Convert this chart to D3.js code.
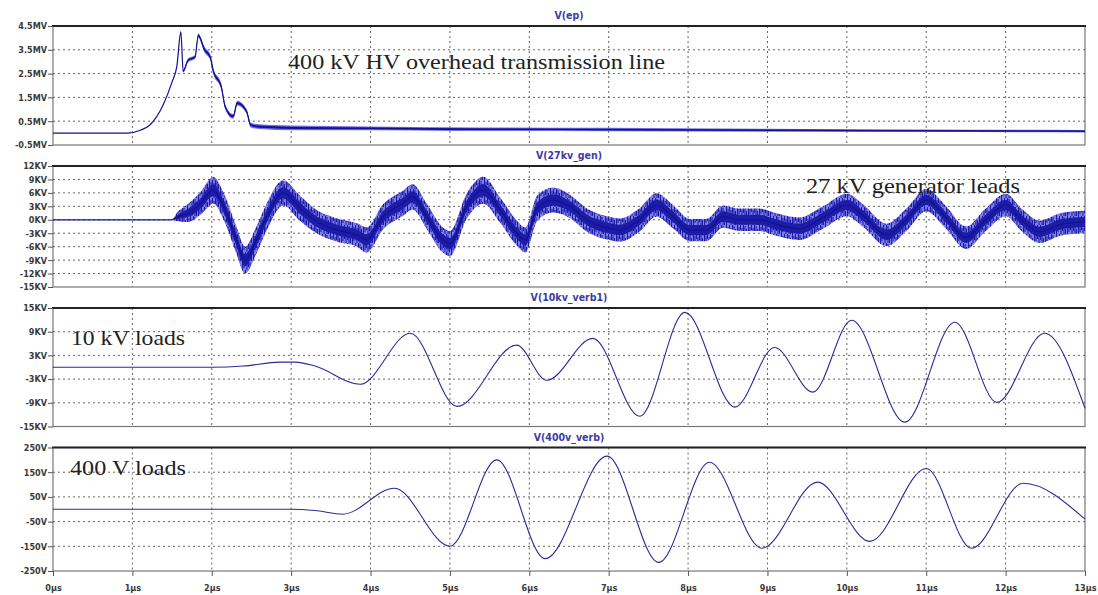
<!DOCTYPE html>
<html>
<head>
<meta charset="utf-8">
<script src="https://cdn.jsdelivr.net/npm/d3@7"></script>
<style>
  body { margin: 0; background: #fff; }
  svg { display: block; }
  .tick text { font-family: "DejaVu Sans Condensed", "DejaVu Sans", sans-serif; font-size: 9px; font-weight: bold; fill: #3a3a3a; }
  .tick line { stroke: #555; }
  .note { font-family: "Liberation Serif", "Times New Roman", serif; font-size: 22px; fill: #222; }
  .ttl { font-family: "DejaVu Sans Condensed", "DejaVu Sans", sans-serif; font-size: 10.5px; font-weight: bold; fill: #3b3ba6; }
</style>
</head>
<body>
<div id="content"></div>
<script>
var w = 1098;
var h = 595;

// time axis (µs)
var xTicks = [0, 1, 2, 3, 4, 5, 6, 7, 8, 9, 10, 11, 12, 13];

// V(ep) in MV : time, centre value, noise half width
var epT   = [0, 0.94, 1.1, 1.22, 1.39, 1.5, 1.56, 1.61, 1.64, 1.7, 1.79, 1.83, 1.91, 1.98, 2.02, 2.12, 2.17, 2.27, 2.32, 2.44, 2.49, 2.6, 3.0, 4.0, 5.0, 7.0, 9.0, 11.0, 13.0];
var epV   = [0, 0, 0.12, 0.34, 1.2, 2.15, 2.8, 4.25, 2.6, 3.05, 3.2, 4.1, 3.5, 3.2, 2.6, 1.95, 1.1, 0.7, 1.26, 0.9, 0.34, 0.27, 0.22, 0.2, 0.17, 0.15, 0.12, 0.1, 0.08];
var epN   = [0, 0, 0, 0, 0, 0, 0, 0.02, 0.05, 0.08, 0.08, 0.1, 0.12, 0.12, 0.12, 0.12, 0.1, 0.1, 0.1, 0.1, 0.1, 0.1, 0.1, 0.08, 0.08, 0.07, 0.06, 0.05, 0.05];
var epTicks = [4.5, 3.5, 2.5, 1.5, 0.5, -0.5];

// V(27kv_gen) in kV
var genT = [0, 1.5, 1.55, 1.7, 1.85, 2.02, 2.15, 2.3, 2.42, 2.55, 2.69, 2.9, 3.11, 3.32, 3.58, 3.83, 3.95, 4.16, 4.41, 4.53, 4.71, 4.91, 5.0, 5.21, 5.42, 5.63, 5.84, 5.95, 6.1, 6.3, 6.51, 6.72, 6.98, 7.14, 7.39, 7.6, 7.81, 8.02, 8.23, 8.44, 8.65, 8.9, 9.1, 9.4, 9.7, 10.0, 10.2, 10.5, 10.75, 11.0, 11.25, 11.5, 11.75, 12.0, 12.2, 12.43, 12.7, 13.0];
var genV = [0, 0, 0.5, 1.5, 3.5, 6.6, 3, -4, -9, -5, 0.6, 6, 2.6, -0.4, -2.3, -3.4, -4.5, 0.7, 3.7, 5.1, 0.7, -4.5, -5.3, 3, 6.6, 2.2, -2.9, -4.5, 2.6, 4.4, 3, 0, -1.8, -2.3, 0, 3.3, 0.7, -2.3, -2.3, 0.7, 0, 0, -1, -2, 0.5, 3.3, 1, -3.4, 0, 4.4, 0.5, -4, 0, 3.3, 0, -2.7, -1, -0.5];
var genN = [0, 0, 0.8, 2, 2.5, 3, 3, 3, 3, 3, 3, 2.8, 2.8, 2.6, 2.6, 2.6, 2.8, 2.8, 2.8, 2.8, 2.8, 2.8, 2.8, 2.8, 3, 2.8, 2.8, 2.8, 2.8, 2.8, 2.6, 2.6, 2.6, 2.6, 2.6, 2.6, 2.6, 2.5, 2.5, 2.5, 2.5, 2.5, 2.5, 2.5, 2.5, 2.5, 2.5, 2.5, 2.5, 2.5, 2.5, 2.5, 2.5, 2.5, 2.5, 2.5, 2.5, 2.5];
var genTicks = [12, 9, 6, 3, 0, -3, -6, -9, -12, -15];

// V(10kv_verb1) in kV
var v10T = [0, 2.0, 2.4, 2.86, 3.05, 3.3, 3.87, 4.5, 5.09, 5.84, 6.22, 6.8, 7.39, 7.96, 8.59, 9.09, 9.57, 10.06, 10.73, 11.36, 11.89, 12.49, 13.0];
var v10V = [0, 0, 0.3, 1.3, 1.3, 0.3, -4.3, 8.6, -9.9, 5.6, -3.3, 7.3, -12.4, 13.9, -10.1, 5, -6.3, 11.9, -13.9, 11.4, -8.9, 8.6, -10.4];
var v10Ticks = [15, 9, 3, -3, -9, -15];

// V(400v_verb) in V
var v400T = [0, 3.0, 3.3, 3.65, 4.3, 5.0, 5.59, 6.2, 6.98, 7.63, 8.27, 8.93, 9.63, 10.29, 11.0, 11.57, 12.22, 13.0];
var v400V = [0, 0, -5, -20, 85, -150, 200, -200, 215, -215, 190, -158, 110, -130, 165, -158, 105, -40];
var v400Ticks = [250, 150, 50, -50, -150, -250];

var panels = [
    { title: "V(ep)", top: 26, bottom: 145, dom: [-0.5, 4.5], ticks: epTicks, unit: "MV", t: epT, v: epV, n: epN },
    { title: "V(27kv_gen)", top: 166, bottom: 287, dom: [-15, 12], ticks: genTicks, unit: "KV", t: genT, v: genV, n: genN, hatch: true },
    { title: "V(10kv_verb1)", top: 308, bottom: 426.5, dom: [-15, 15], ticks: v10Ticks, unit: "KV", t: v10T, v: v10V },
    { title: "V(400v_verb)", top: 447.5, bottom: 571, dom: [-250, 250], ticks: v400Ticks, unit: "V", t: v400T, v: v400V }
];

var notes = [
    { text: "400 kV HV overhead transmission line", x: 288, y: 69, len: 377 },
    { text: "27 kV generator leads", x: 806, y: 193, len: 214 },
    { text: "10 kV loads", x: 71, y: 345, len: 114 },
    { text: "400 V loads", x: 70, y: 475, len: 116 }
];

var x = d3.scaleLinear().domain([0, 13]).range([53, 1085]);

var svg = d3.select("div#content").append("svg")
    .attr("width", w)
    .attr("height", h);

// hatch texture so the noisy band looks spiky rather than smooth
var pat = svg.append("defs").append("pattern")
    .attr("id", "noise").attr("patternUnits", "userSpaceOnUse")
    .attr("width", 11).attr("height", 9);
pat.append("rect").attr("width", 11).attr("height", 9).attr("fill", "#7d7de8");
[[0.5, 0, 9], [2, 2, 7], [3.5, 0, 5], [5, 3, 9], [6.5, 0, 6], [8, 1, 9], [9.5, 4, 9]].forEach(function (s) {
    pat.append("line").attr("x1", s[0]).attr("x2", s[0]).attr("y1", s[1]).attr("y2", s[2])
        .attr("stroke", "#1b1ba6").attr("stroke-width", 1);
});

function drawPanel(p, i) {
    var y = d3.scaleLinear().domain(p.dom).range([p.bottom, p.top]);
    var g = svg.append("g");

    g.append("rect")
        .attr("x", x(0)).attr("y", p.top)
        .attr("width", x(13) - x(0)).attr("height", p.bottom - p.top)
        .attr("fill", "#fff").attr("stroke", "#777").attr("stroke-width", 1.2);

    // grid
    g.selectAll("line.vg").data(xTicks.slice(1, -1)).enter().append("line")
        .attr("x1", d => x(d)).attr("x2", d => x(d))
        .attr("y1", p.top).attr("y2", p.bottom)
        .attr("stroke", "#666").attr("stroke-dasharray", "2,3");
    g.selectAll("line.hg").data(p.ticks.slice(1, -1)).enter().append("line")
        .attr("x1", x(0)).attr("x2", x(13))
        .attr("y1", d => y(d)).attr("y2", d => y(d))
        .attr("stroke", "#666").attr("stroke-dasharray", "2,3");

    g.append("line")
        .attr("x1", x(0) - 1).attr("x2", x(13) + 1)
        .attr("y1", p.top).attr("y2", p.top)
        .attr("stroke", "#222").attr("stroke-width", 2);

    g.append("g")
        .attr("transform", "translate(" + x(0) + ",0)")
        .call(d3.axisLeft(y).tickValues(p.ticks).tickSize(5).tickSizeOuter(0).tickPadding(1)
            .tickFormat(d => d + p.unit))
        .call(a => a.select(".domain").remove());

    var pts = p.t.map((t, k) => ({ t: t, v: p.v[k], n: p.n ? p.n[k] : 0 }));

    if (p.n) {
        var outer = d3.area().curve(d3.curveMonotoneX)
            .x(d => x(d.t)).y0(d => y(d.v - d.n)).y1(d => y(d.v + d.n));
        var inner = d3.area().curve(d3.curveMonotoneX)
            .x(d => x(d.t)).y0(d => y(d.v - d.n * 0.45)).y1(d => y(d.v + d.n * 0.45));
        g.append("path").datum(pts).attr("d", outer).attr("fill", p.hatch ? "url(#noise)" : "#7272e2");
        g.append("path").datum(pts).attr("d", inner).attr("fill", "#1c1ca8");
    }

    var line = d3.line().curve(d3.curveMonotoneX).x(d => x(d.t)).y(d => y(d.v));
    g.append("path").datum(pts).attr("d", line)
        .attr("fill", "none").attr("stroke", p.n ? "#12128e" : "#2b2b96").attr("stroke-width", p.n ? 1.2 : 1.1);

    g.append("text").attr("class", "ttl")
        .attr("x", 569).attr("y", p.top - 7)
        .attr("text-anchor", "middle").text(p.title);

    if (i === panels.length - 1) {
        svg.append("g")
            .attr("transform", "translate(0," + p.bottom + ")")
            .call(d3.axisBottom(x).tickValues(xTicks).tickSize(5).tickSizeOuter(0).tickPadding(9)
                .tickFormat(d => d + "µs"))
            .call(a => a.select(".domain").remove());
    }
}

panels.forEach(drawPanel);

svg.selectAll("text.note").data(notes).enter().append("text")
    .attr("class", "note")
    .attr("x", d => d.x).attr("y", d => d.y)
    .attr("textLength", d => d.len).attr("lengthAdjust", "spacingAndGlyphs")
    .text(d => d.text);
</script>
</body>
</html>
